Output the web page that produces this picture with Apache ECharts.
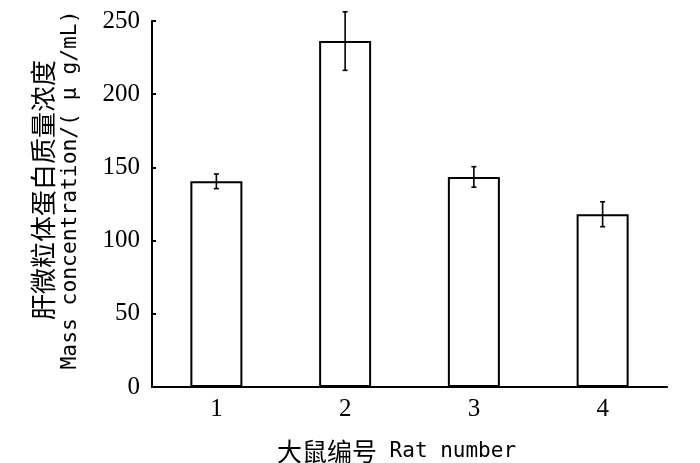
<!DOCTYPE html>
<html>
<head>
<meta charset="utf-8">
<script src="https://cdn.jsdelivr.net/npm/echarts@6/dist/echarts.min.js"></script>
<style>html,body{margin:0;padding:0;background:#fff;}#c{width:700px;height:463px;}</style>
</head>
<body>
<div id="c"></div>
<script>
const categories = ['1', '2', '3', '4'];
const values = [140.5, 236.3, 143.5, 118];
const errors = [5, 20, 7, 8.5];
const xTitleCn = '大鼠编号';
const xTitleEn = ' Rat number';
const yTitleCn = '肝微粒体蛋白质量浓度';
const yTitleEn = 'Mass concentration/( μ g/mL)';

const errData = categories.map((c, i) => [i, values[i] - errors[i], values[i] + errors[i]]);

const chart = echarts.init(document.getElementById('c'), null, {renderer: 'canvas'});
chart.setOption({
  backgroundColor: '#fff',
  animation: false,
  grid: {left: 152, right: 33, top: 21, bottom: 76, containLabel: false, outerBoundsMode: 'none'},
  xAxis: {
    type: 'category',
    data: categories,
    axisLine: {lineStyle: {color: '#000', width: 2}},
    axisTick: {show: false},
    axisLabel: {color: '#000', fontFamily: 'Liberation Serif', fontSize: 25, margin: 10},
    name: '{a|' + xTitleCn + '}{b|' + xTitleEn + '}',
    nameLocation: 'middle',
    nameGap: 52,
    nameTextStyle: {
      color: '#000',
      padding: [0, 26, 0, 0],
      rich: {
        a: {fontFamily: 'Noto Sans CJK SC', fontSize: 25, color: '#000'},
        b: {fontFamily: 'DejaVu Sans Mono', fontSize: 21, color: '#000'}
      }
    }
  },
  yAxis: {
    type: 'value',
    min: 0, max: 250, interval: 50,
    splitLine: {show: false},
    axisLine: {show: true, lineStyle: {color: '#000', width: 2}},
    axisTick: {show: true, inside: true, length: 4, lineStyle: {color: '#000', width: 2}},
    axisLabel: {color: '#000', fontFamily: 'Liberation Serif', fontSize: 25, margin: 12},
    name: '{a|' + yTitleCn + '}\n{b|' + yTitleEn + '}',
    nameLocation: 'middle',
    nameRotate: 90,
    nameGap: 68,
    nameTextStyle: {
      color: '#000',
      align: 'center',
      padding: [0, 0, 0, 28],
      rich: {
        a: {fontFamily: 'Noto Sans CJK SC', fontSize: 26, lineHeight: 26, color: '#000', align: 'center'},
        b: {fontFamily: 'DejaVu Sans Mono', fontSize: 21.3, lineHeight: 28, color: '#000', align: 'center'}
      }
    }
  },
  series: [
    {
      type: 'bar',
      data: values,
      barWidth: 52,
      itemStyle: {color: '#fff', borderColor: '#000', borderWidth: 2}
    },
    {
      type: 'custom',
      data: errData,
      z: 10,
      renderItem: function (params, api) {
        const lo = api.coord([api.value(0), api.value(1)]);
        const hi = api.coord([api.value(0), api.value(2)]);
        const w = 2.5;
        const st = {stroke: '#000', lineWidth: 1.6};
        return {
          type: 'group',
          children: [
            {type: 'line', shape: {x1: hi[0], y1: hi[1], x2: lo[0], y2: lo[1]}, style: st},
            {type: 'line', shape: {x1: hi[0] - w, y1: hi[1], x2: hi[0] + w, y2: hi[1]}, style: st},
            {type: 'line', shape: {x1: lo[0] - w, y1: lo[1], x2: lo[0] + w, y2: lo[1]}, style: st}
          ]
        };
      }
    }
  ]
});
</script>
</body>
</html>
